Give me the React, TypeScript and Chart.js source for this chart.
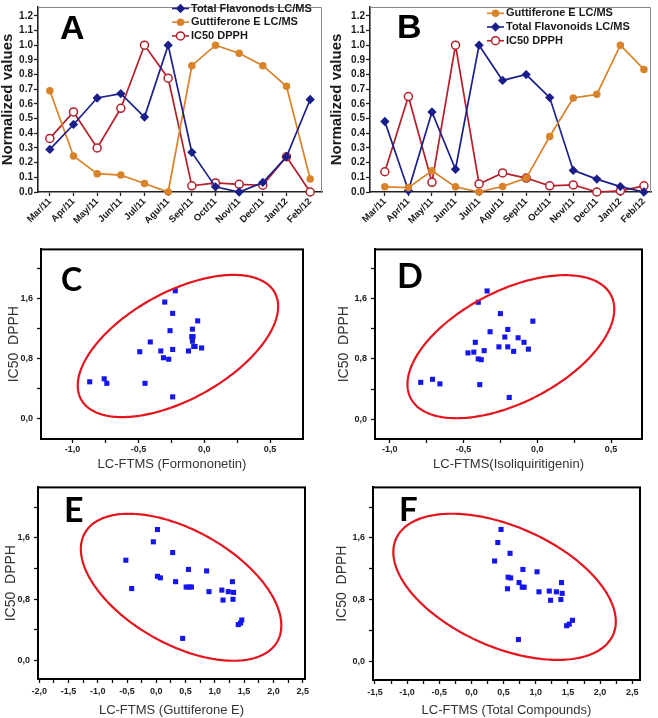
import React, { useEffect, useRef } from "react";
import { Chart, registerables } from "chart.js";
Chart.register(...registerables);

// ---------- data ----------
const MONTHS = ["Mar/11", "Apr/11", "May/11", "Jun/11", "Jul/11", "Agu/11", "Sep/11", "Oct/11", "Nov/11", "Dec/11", "Jan/12", "Feb/12"];
const NORM_TICKS = [0, 0.1, 0.2, 0.3, 0.4, 0.5, 0.6, 0.7, 0.8, 0.9, 1.0, 1.1, 1.2];

const A_FLAV = [0.29, 0.46, 0.64, 0.67, 0.51, 1.0, 0.27, 0.035, 0.0, 0.065, 0.24, 0.63];
const A_GUTT = [0.69, 0.245, 0.125, 0.115, 0.058, 0.0, 0.86, 1.0, 0.945, 0.86, 0.72, 0.088];
const A_IC50 = [0.365, 0.545, 0.30, 0.57, 1.0, 0.775, 0.042, 0.062, 0.052, 0.046, 0.24, 0.0];

const B_GUTT = [0.035, 0.03, 0.145, 0.035, 0.0, 0.038, 0.095, 0.378, 0.64, 0.665, 1.0, 0.835];
const B_FLAV = [0.48, 0.01, 0.545, 0.155, 1.0, 0.76, 0.80, 0.643, 0.147, 0.088, 0.037, 0.0];
const B_IC50 = [0.138, 0.65, 0.066, 1.0, 0.055, 0.13, 0.095, 0.042, 0.048, 0.0, 0.008, 0.042];

const IC50_TICKS = [0, 0.4, 0.8, 1.2, 1.6, 2.0];

const C_X = [-0.22, -0.30, -0.24, -0.05, -0.26, -0.09, -0.095, -0.085, -0.09, -0.08, -0.07, -0.02, -0.12, -0.24, -0.41, -0.49, -0.33, -0.31, -0.27, -0.87, -0.76, -0.74, -0.45, -0.24];
const C_Y = [1.70, 1.55, 1.40, 1.30, 1.17, 1.19, 1.09, 1.09, 1.03, 0.96, 0.96, 0.94, 0.90, 0.92, 1.02, 0.89, 0.90, 0.81, 0.79, 0.49, 0.53, 0.47, 0.47, 0.29];
const C_X_TICKS = [-1.0, -0.75, -0.5, -0.25, 0.0, 0.25, 0.5];
const C_ELLIPSE = [-0.20, 0.966, 0.761, 0.945, 0.556];

const D_X = [-0.34, -0.40, -0.25, -0.03, -0.20, -0.32, -0.22, -0.13, -0.42, -0.09, -0.26, -0.20, -0.06, -0.16, -0.36, -0.47, -0.43, -0.40, -0.38, -0.79, -0.71, -0.66, -0.39, -0.19];
const D_Y = [1.70, 1.55, 1.40, 1.30, 1.19, 1.16, 1.09, 1.08, 1.02, 1.02, 0.96, 0.96, 0.93, 0.90, 0.91, 0.88, 0.89, 0.80, 0.79, 0.49, 0.53, 0.47, 0.46, 0.29];
const D_X_TICKS = [-1.0, -0.75, -0.5, -0.25, 0.0, 0.25, 0.5];
const D_ELLIPSE = [-0.179, 0.962, 0.701, 0.947, 0.525];

const E_X = [0.02, -0.05, 0.28, -0.52, 0.55, 0.86, 0.02, 0.07, 0.33, -0.42, 0.51, 0.56, 0.60, 0.90, 1.12, 1.23, 1.30, 1.32, 1.14, 1.31, 1.40, 1.44, 1.46, 0.45];
const E_Y = [1.71, 1.55, 1.41, 1.31, 1.19, 1.17, 1.10, 1.08, 1.03, 0.94, 0.96, 0.96, 0.96, 0.90, 0.92, 0.90, 1.03, 0.89, 0.79, 0.80, 0.47, 0.49, 0.53, 0.29];
const E_X_TICKS = [-2.0, -1.75, -1.5, -1.25, -1.0, -0.75, -0.5, -0.25, 0.0, 0.25, 0.5, 0.75, 1.0, 1.25, 1.5, 1.75, 2.0, 2.25, 2.5];
const E_ELLIPSE = [0.424, 0.957, 1.712, 0.959, -0.520];

const F_X = [0.46, 0.41, 0.60, 0.36, 0.80, 1.02, 0.57, 0.61, 0.74, 0.56, 0.79, 0.82, 1.05, 1.21, 1.32, 1.40, 1.41, 1.23, 1.39, 1.48, 1.52, 1.57, 0.73];
const F_Y = [1.71, 1.54, 1.40, 1.30, 1.19, 1.16, 1.09, 1.08, 1.02, 0.94, 0.96, 0.96, 0.90, 0.91, 0.90, 1.02, 0.88, 0.79, 0.80, 0.46, 0.48, 0.53, 0.28];
const F_X_TICKS = [-1.5, -1.25, -1.0, -0.75, -0.5, -0.25, 0.0, 0.25, 0.5, 0.75, 1.0, 1.25, 1.5, 1.75, 2.0, 2.25, 2.5];
const F_ELLIPSE = [0.515, 0.965, 1.729, 0.949, -0.475];

// ---------- styles ----------
const SANS = "'Liberation Sans', Arial, sans-serif";
const NAVY = "#1b1f8a";
const ORANGE = "#d8832a";
const RED = "#b3202c";

const SERIES_STYLE: any = {
  flav: { color: NAVY, fill: NAVY, point: "rectRot", radius: 3.6 },
  gutt: { color: ORANGE, fill: ORANGE, point: "circle", radius: 3 },
  ic50: { color: RED, fill: "#ffffff", point: "circle", radius: 4 },
};

// ---------- plugins ----------
const framePlugin = {
  id: "frame",
  afterDraw(chart: any, _a: any, opts: any) {
    if (!opts || !opts.mode) return;
    const { ctx, chartArea: ca } = chart;
    ctx.save();
    if (opts.mode === "box") {
      ctx.strokeStyle = "#000";
      ctx.lineWidth = 2;
      ctx.strokeRect(ca.left, ca.top, ca.right - ca.left, ca.bottom - ca.top);
    } else {
      ctx.strokeStyle = "#8a8a8a";
      ctx.lineWidth = 1;
      ctx.beginPath();
      ctx.moveTo(ca.left, ca.top + 0.5);
      ctx.lineTo(ca.right - 0.5, ca.top + 0.5);
      ctx.lineTo(ca.right - 0.5, ca.bottom);
      ctx.stroke();
    }
    ctx.restore();
  },
};

function drawMarker(ctx: any, style: any, x: number, y: number) {
  ctx.beginPath();
  const r = style.radius;
  if (style.point === "rectRot") {
    ctx.moveTo(x, y - r);
    ctx.lineTo(x + r, y);
    ctx.lineTo(x, y + r);
    ctx.lineTo(x - r, y);
    ctx.closePath();
  } else {
    ctx.arc(x, y, r, 0, Math.PI * 2);
  }
  ctx.fillStyle = style.fill;
  ctx.fill();
  ctx.lineWidth = 1.5;
  ctx.strokeStyle = style.color;
  ctx.stroke();
}

const innerLegendPlugin = {
  id: "innerLegend",
  afterDraw(chart: any, _a: any, opts: any) {
    if (!opts || !opts.items) return;
    const ctx = chart.ctx;
    ctx.save();
    opts.items.forEach((it: any, i: number) => {
      const y = opts.y0 + i * opts.dy;
      const st = SERIES_STYLE[it.key];
      ctx.strokeStyle = st.color;
      ctx.lineWidth = 1.6;
      ctx.beginPath();
      ctx.moveTo(opts.x - 19, y);
      ctx.lineTo(opts.x - 2, y);
      ctx.stroke();
      drawMarker(ctx, st, opts.x - 10.5, y);
      ctx.fillStyle = "#1a1a1a";
      ctx.font = `bold 11px ${SANS}`;
      ctx.textBaseline = "middle";
      ctx.textAlign = "left";
      ctx.fillText(it.label, opts.x, y);
    });
    ctx.restore();
  },
};

const ellipsePlugin = {
  id: "ellipse",
  afterDatasetsDraw(chart: any, _a: any, opts: any) {
    if (!opts || !opts.params) return;
    const [cx, cy, hw, hh, rho] = opts.params;
    const xs = chart.scales.x;
    const ys = chart.scales.y;
    const ctx = chart.ctx;
    const s = Math.sqrt(1 - rho * rho);
    ctx.save();
    ctx.beginPath();
    const N = 240;
    for (let i = 0; i <= N; i++) {
      const t = (i / N) * Math.PI * 2;
      const dx = cx + hw * Math.cos(t);
      const dy = cy + hh * (rho * Math.cos(t) + s * Math.sin(t));
      const px = xs.getPixelForValue(dx);
      const py = ys.getPixelForValue(dy);
      if (i === 0) ctx.moveTo(px, py);
      else ctx.lineTo(px, py);
    }
    ctx.closePath();
    ctx.strokeStyle = "#e3161f";
    ctx.lineWidth = 2.2;
    ctx.stroke();
    ctx.restore();
  },
};

// ---------- configs ----------
function lineConfig(p: any) {
  return {
    type: "line",
    data: {
      datasets: p.series.map((s: any) => {
        const st = SERIES_STYLE[s.key];
        return {
          label: s.label,
          data: s.values.map((v: number, i: number) => ({ x: i, y: v })),
          borderColor: st.color,
          backgroundColor: st.fill,
          pointStyle: st.point,
          pointRadius: st.radius,
          pointBorderWidth: 1.5,
          pointBorderColor: st.color,
          pointBackgroundColor: st.fill,
          borderWidth: 1.7,
          tension: 0,
          clip: false,
        };
      }),
    },
    options: {
      animation: false,
      responsive: false,
      devicePixelRatio: 1,
      layout: { padding: p.padding },
      plugins: {
        legend: { display: false },
        tooltip: { enabled: false },
        innerLegend: p.legend,
        frame: { mode: "open" },
      },
      scales: {
        x: {
          type: "linear",
          min: p.xMin,
          max: p.xMax,
          afterBuildTicks: (s: any) => {
            s.ticks = MONTHS.map((_m, i) => ({ value: i }));
          },
          ticks: {
            callback: (v: any) => MONTHS[Math.round(v)],
            autoSkip: false,
            maxRotation: 45,
            minRotation: 45,
            padding: 0,
            color: "#1a1a1a",
            font: { family: SANS, weight: "bold", size: 9.5 },
          },
          grid: { display: true, drawOnChartArea: false, tickLength: 4, tickColor: "#222", tickWidth: 1.3 },
          border: { display: true, color: "#222", width: 1.6 },
          afterFit: (s: any) => {
            s.height = p.xHeight;
          },
        },
        y: {
          type: "linear",
          min: 0,
          max: 1.26,
          afterBuildTicks: (s: any) => {
            s.ticks = NORM_TICKS.map((v) => ({ value: v }));
          },
          ticks: {
            callback: (v: any) => Number(v).toFixed(1),
            padding: 1,
            color: "#1a1a1a",
            font: { family: SANS, weight: "bold", size: 10 },
          },
          grid: { display: true, drawOnChartArea: false, tickLength: 4, tickColor: "#222", tickWidth: 1.3 },
          border: { display: true, color: "#222", width: 1.6 },
          title: {
            display: true,
            text: "Normalized values",
            color: "#1a1a1a",
            font: { family: SANS, weight: "bold", size: 15, lineHeight: 1 },
            padding: { top: p.yTitlePad, bottom: 0 },
          },
          afterFit: (s: any) => {
            s.width = p.yWidth;
          },
        },
      },
    },
    plugins: [framePlugin, innerLegendPlugin],
  };
}

const fmtComma = (v: number) => v.toFixed(1).replace(".", ",");
const isMult = (v: number, step: number) => Math.abs(v / step - Math.round(v / step)) < 1e-6;

function scatterConfig(p: any) {
  return {
    type: "scatter",
    data: {
      datasets: [
        {
          data: p.xs.map((x: number, i: number) => ({ x, y: p.ys[i] })),
          pointStyle: "rect",
          pointRadius: 3.6,
          backgroundColor: "#1515ee",
          borderColor: "#1515ee",
          borderWidth: 0,
          clip: false,
        },
      ],
    },
    options: {
      animation: false,
      responsive: false,
      devicePixelRatio: 1,
      layout: { padding: p.padding },
      plugins: {
        legend: { display: false },
        tooltip: { enabled: false },
        frame: { mode: "box" },
        ellipse: { params: p.ellipse },
      },
      scales: {
        x: {
          type: "linear",
          min: p.xMin,
          max: p.xMax,
          afterBuildTicks: (s: any) => {
            s.ticks = p.xTicks.map((v: number) => ({ value: v }));
          },
          ticks: {
            callback: (v: any) => (isMult(Number(v), 0.5) ? fmtComma(Number(v)) : ""),
            autoSkip: false,
            maxRotation: 0,
            minRotation: 0,
            padding: p.xLabelPad,
            color: "#222",
            font: { family: SANS, weight: "bold", size: 9 },
          },
          grid: { display: true, drawOnChartArea: false, tickLength: 4, tickColor: "#111", tickWidth: 1.3 },
          border: { display: true, color: "#000", width: 2 },
          title: {
            display: true,
            text: p.xTitle,
            color: "#333",
            font: { family: SANS, size: 13, lineHeight: 1.2 },
            padding: 0,
          },
          afterFit: (s: any) => {
            s.height = p.xHeight;
          },
        },
        y: {
          type: "linear",
          min: p.yMin,
          max: p.yMax,
          afterBuildTicks: (s: any) => {
            s.ticks = IC50_TICKS.map((v) => ({ value: v }));
          },
          ticks: {
            callback: (v: any) => (isMult(Number(v), 0.8) ? fmtComma(Number(v)) : ""),
            padding: 4,
            color: "#222",
            font: { family: SANS, weight: "bold", size: 9 },
          },
          grid: { display: true, drawOnChartArea: false, tickLength: 4, tickColor: "#111", tickWidth: 1.3 },
          border: { display: true, color: "#000", width: 2 },
          title: {
            display: true,
            text: "IC50  DPPH",
            color: "#333",
            font: { family: SANS, size: 14, lineHeight: 1.2 },
            padding: { top: p.yTitlePad, bottom: 0 },
          },
          afterFit: (s: any) => {
            s.width = p.yWidth;
          },
        },
      },
    },
    plugins: [framePlugin, ellipsePlugin],
  };
}

// ---------- panels ----------
const PANELS: any[] = [
  {
    box: { left: 0, top: 0, width: 330, height: 228 },
    config: () =>
      lineConfig({
        series: [
          { key: "flav", label: "Total Flavonods LC/MS", values: A_FLAV },
          { key: "gutt", label: "Guttiferone E LC/MS", values: A_GUTT },
          { key: "ic50", label: "IC50 DPPH", values: A_IC50 },
        ],
        legend: {
          x: 191,
          y0: 8.5,
          dy: 13.7,
          items: [
            { key: "flav", label: "Total Flavonods LC/MS" },
            { key: "gutt", label: "Guttiferone E LC/MS" },
            { key: "ic50", label: "IC50 DPPH" },
          ],
        },
        padding: { left: 0, top: 1, right: 8, bottom: 0 },
        xMin: -0.5,
        xMax: 11.5,
        xHeight: 36,
        yWidth: 38,
        yTitlePad: 0,
      }),
  },
  {
    box: { left: 328, top: 0, width: 330, height: 228 },
    config: () =>
      lineConfig({
        series: [
          { key: "gutt", label: "Guttiferone E LC/MS", values: B_GUTT },
          { key: "flav", label: "Total Flavonoids LC/MS", values: B_FLAV },
          { key: "ic50", label: "IC50 DPPH", values: B_IC50 },
        ],
        legend: {
          x: 178,
          y0: 13.3,
          dy: 13.7,
          items: [
            { key: "gutt", label: "Guttiferone E LC/MS" },
            { key: "flav", label: "Total Flavonoids LC/MS" },
            { key: "ic50", label: "IC50 DPPH" },
          ],
        },
        padding: { left: 0, top: 1, right: 7, bottom: 0 },
        xMin: -0.63,
        xMax: 11.3,
        xHeight: 36,
        yWidth: 42,
        yTitlePad: 1.5,
      }),
  },
  {
    box: { left: 0, top: 240, width: 330, height: 232 },
    config: () =>
      scatterConfig({
        xs: C_X, ys: C_Y, xTicks: C_X_TICKS, ellipse: C_ELLIPSE,
        xTitle: "LC-FTMS (Formononetin)",
        padding: { left: 0, top: 5, right: 27, bottom: 0 },
        xMin: -1.24, xMax: 0.75, yMin: -0.27, yMax: 2.25,
        xHeight: 33, yWidth: 41, xLabelPad: 1, yTitlePad: 6,
      }),
  },
  {
    box: { left: 328, top: 240, width: 330, height: 232 },
    config: () =>
      scatterConfig({
        xs: D_X, ys: D_Y, xTicks: D_X_TICKS, ellipse: D_ELLIPSE,
        xTitle: "LC-FTMS(Isoliquiritigenin)",
        padding: { left: 0, top: 5, right: 16, bottom: 0 },
        xMin: -1.1, xMax: 0.71, yMin: -0.26, yMax: 2.25,
        xHeight: 33, yWidth: 47, xLabelPad: 1, yTitlePad: 8,
      }),
  },
  {
    box: { left: 0, top: 478, width: 330, height: 240 },
    config: () =>
      scatterConfig({
        xs: E_X, ys: E_Y, xTicks: E_X_TICKS, ellipse: E_ELLIPSE,
        xTitle: "LC-FTMS (Guttiferone E)",
        padding: { left: 0, top: 6, right: 25, bottom: 0 },
        xMin: -2.02, xMax: 2.54, yMin: -0.24, yMax: 2.26,
        xHeight: 39, yWidth: 38, xLabelPad: 3, yTitlePad: 3,
      }),
  },
  {
    box: { left: 328, top: 478, width: 330, height: 240 },
    config: () =>
      scatterConfig({
        xs: F_X, ys: F_Y, xTicks: F_X_TICKS, ellipse: F_ELLIPSE,
        xTitle: "LC-FTMS (Total Compounds)",
        padding: { left: 0, top: 8, right: 18, bottom: 0 },
        xMin: -1.53, xMax: 2.62, yMin: -0.245, yMax: 2.256,
        xHeight: 38, yWidth: 45, xLabelPad: 3, yTitlePad: 6,
      }),
  },
];

const LETTERS = [
  { text: "A", left: 60, top: 10, size: 34, family: SANS },
  { text: "B", left: 397, top: 9, size: 34, family: SANS },
  { text: "C", left: 61, top: 263, size: 32, family: "Lato, 'Open Sans', sans-serif" },
  { text: "D", left: 397, top: 258, size: 34, family: "Lato, 'Open Sans', sans-serif" },
  { text: "E", left: 64, top: 492, size: 34, family: "Lato, 'Open Sans', sans-serif" },
  { text: "F", left: 399, top: 492, size: 33, family: "Lato, 'Open Sans', sans-serif" },
];

function ChartBox({ box, config }: any) {
  const ref = useRef<HTMLCanvasElement | null>(null);
  useEffect(() => {
    if (!ref.current) return;
    const chart = new Chart(ref.current, config() as any);
    return () => chart.destroy();
  }, []);
  return (
    <div style={{ position: "absolute", left: box.left, top: box.top, width: box.width, height: box.height }}>
      <canvas ref={ref} width={box.width} height={box.height} style={{ width: box.width, height: box.height, display: "block" }} />
    </div>
  );
}

export default function App() {
  return (
    <div style={{ position: "absolute", left: 0, top: 0, width: 658, height: 718, background: "#fff", overflow: "hidden" }}>
      {PANELS.map((p, i) => (
        <ChartBox key={i} box={p.box} config={p.config} />
      ))}
      {LETTERS.map((l) => (
        <div
          key={l.text}
          style={{
            position: "absolute",
            left: l.left,
            top: l.top,
            fontFamily: l.family,
            fontWeight: 700,
            fontSize: l.size,
            lineHeight: 1,
            color: "#000",
            pointerEvents: "none",
          }}
        >
          {l.text}
        </div>
      ))}
    </div>
  );
}
